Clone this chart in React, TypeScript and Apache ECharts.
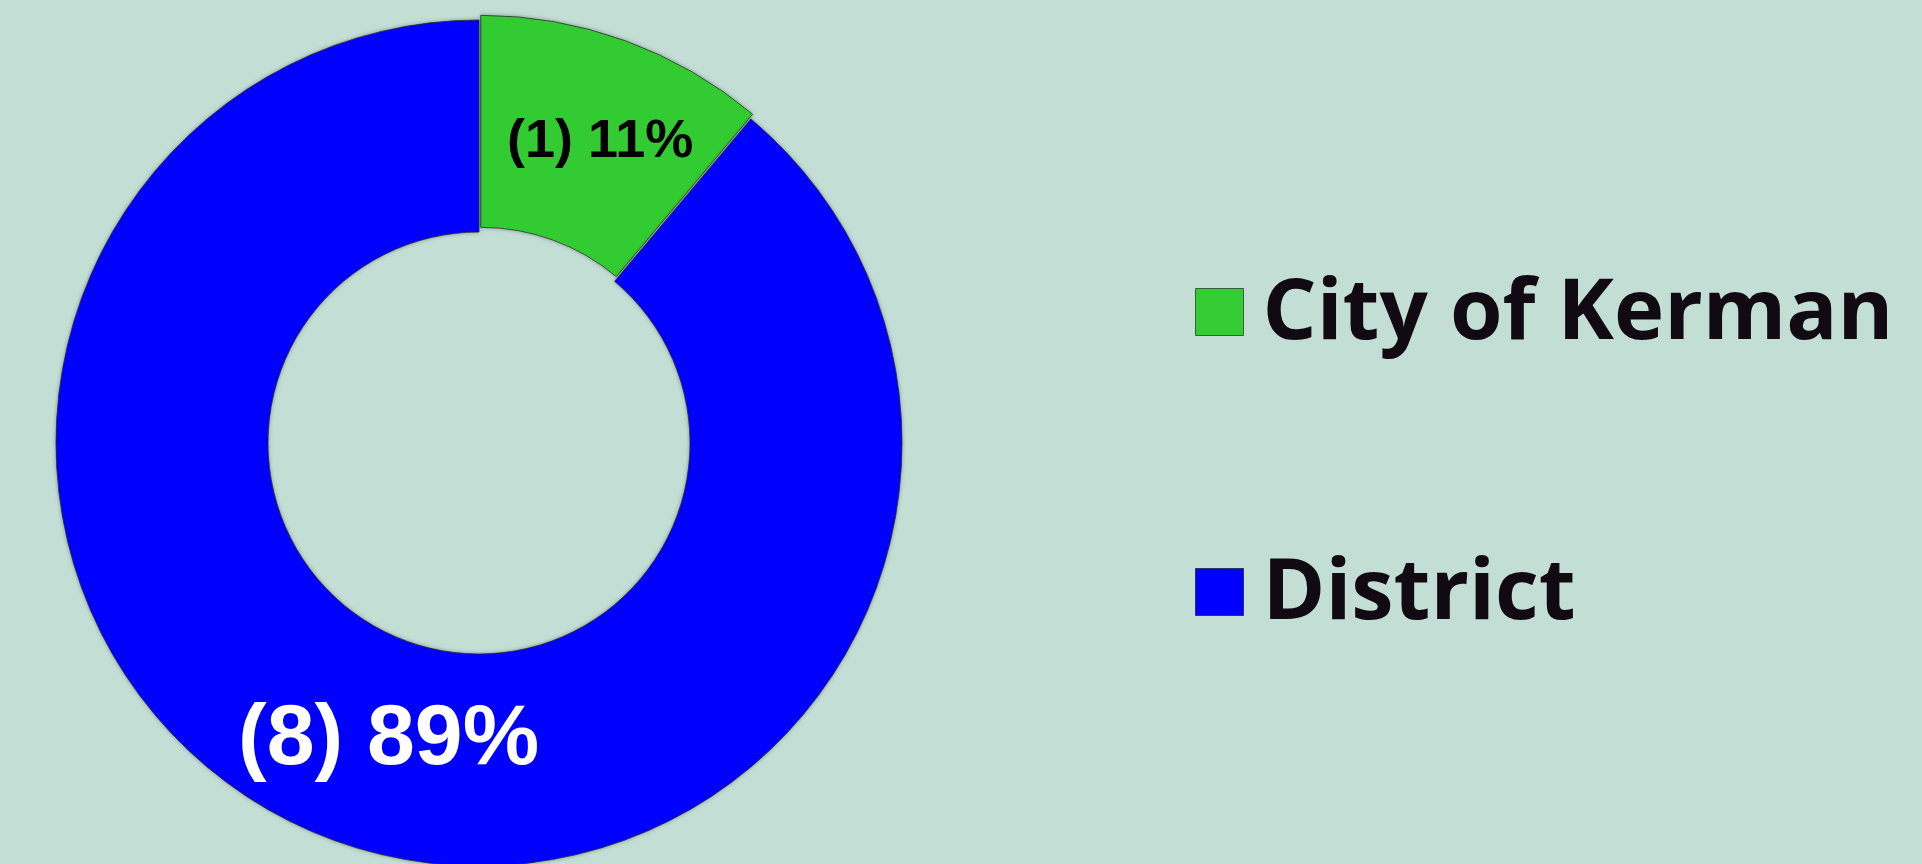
import React, { useEffect, useRef } from "react";
import * as echarts from "echarts";

const categories: string[] = ["City of Kerman", "District"];
const counts: number[] = [1, 8];
const sliceColors: string[] = ["#33CC33", "#0000FF"];

const LABEL_FONT = "Liberation Sans";

export default function App() {
  const ref = useRef<HTMLDivElement>(null);
  useEffect(() => {
    if (!ref.current) return;
    const chart = echarts.init(ref.current, null, { renderer: "svg" });
    const data = categories.map((name, i) => ({
      name,
      value: counts[i],
      selected: i === 0,
      itemStyle: { color: sliceColors[i] },
      label:
        i === 0
          ? { fontSize: 54, color: "#000000", padding: [0, 0, 0, 20] }
          : { fontSize: 86, color: "#FFFFFF", offset: [19, -10] },
    }));
    chart.setOption({
      animation: false,
      backgroundColor: "#C3DFD5",
      legend: {
        orient: "vertical",
        left: 1190,
        top: 256,
        itemWidth: 48,
        itemHeight: 47,
        itemGap: 178,
        icon: "rect",
        selectedMode: false,
        itemStyle: { borderColor: "rgba(0,0,0,0.55)", borderWidth: 1 },
        formatter: "{a|{name}}",
        textStyle: {
          fontFamily: "Open Sans",
          fontWeight: "bold",
          fontSize: 85,
          lineHeight: 90,
          color: "#120A12",
          padding: [0, 0, 12, 14],
          rich: {
            a: {
              fontFamily: "Open Sans",
              fontWeight: "bold",
              fontSize: 85,
              lineHeight: 90,
              color: "#120A12",
            },
          },
        },
        data: categories,
      },
      series: [
        {
          type: "pie",
          center: [479, 443],
          radius: [211, 423],
          startAngle: 90,
          clockwise: true,
          selectedMode: "single",
          selectedOffset: 5,
          avoidLabelOverlap: false,
          itemStyle: {
            borderColor: "rgba(40,40,40,0.75)",
            borderWidth: 1,
            shadowBlur: 4,
            shadowColor: "rgba(0,0,0,0.35)",
          },
          label: {
            show: true,
            position: "inside",
            fontFamily: LABEL_FONT,
            fontWeight: "bold",
            formatter: (p: any) => `(${p.value}) ${Math.round(p.percent)}%`,
          },
          labelLine: { show: false },
          emphasis: { disabled: true },
          data,
        },
      ],
    });
    return () => chart.dispose();
  }, []);
  return (
    <div
      ref={ref}
      style={{ position: "fixed", left: 0, top: 0, width: 1922, height: 864 }}
    />
  );
}
